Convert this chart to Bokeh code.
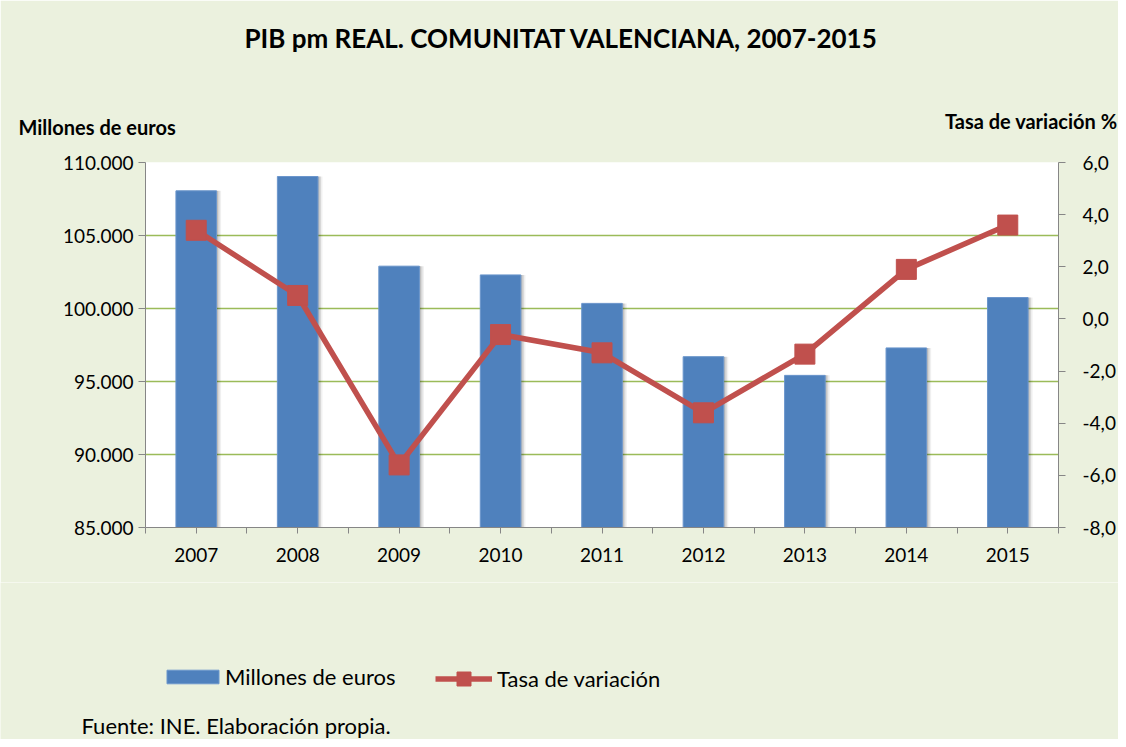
from bokeh.plotting import figure
from bokeh.layouts import column
from bokeh.models import Range1d, LinearAxis, FixedTicker, Label, Legend, LegendItem
from bokeh.transform import dodge
from bokeh.embed import file_html
from bokeh.resources import INLINE

# ---- data ----
years = ["2007", "2008", "2009", "2010", "2011", "2012", "2013", "2014", "2015"]
pib = [108060, 109040, 102900, 102300, 100350, 96700, 95420, 97300, 100750]
tasa = [3.4, 0.9, -5.6, -0.6, -1.3, -3.6, -1.35, 1.9, 3.6]
left_ticks = [85000, 90000, 95000, 100000, 105000, 110000]
left_labels = ["85.000", "90.000", "95.000", "100.000", "105.000", "110.000"]
right_ticks = [-8, -6, -4, -2, 0, 2, 4, 6]
right_labels = ["-8,0", "-6,0", "-4,0", "-2,0", "0,0", "2,0", "4,0", "6,0"]

title_text = "PIB pm REAL. COMUNITAT VALENCIANA, 2007-2015"
left_title = "Millones de euros"
right_title = "Tasa de variación %"
source_text = "Fuente: INE. Elaboración propia."
legend_bar = "Millones de euros"
legend_line = "Tasa de variación"

# ---- layout ----
W, H = 1118, 739
FL, FR, FT, FB = 145, 1058, 162, 527  # plot frame in page pixels
HM = 582                               # height of the main figure
FONT = "Lato"
BG = "#EBF1DE"
GRID = "#9BBB59"
AXIS = "#868686"
BLUE = "#4F81BD"
RED = "#C0504D"
NAN = float("nan")

fig = figure(width=W, height=HM, x_range=Range1d(0, len(years)),
             y_range=Range1d(left_ticks[0], left_ticks[-1]),
             output_backend="svg", toolbar_location=None,
             min_border_left=FL, min_border_right=W - FR,
             min_border_top=FT, min_border_bottom=HM - FB)
fig.background_fill_color = "white"
fig.border_fill_color = BG
fig.outline_line_color = None
fig.extra_y_ranges = {"pct": Range1d(right_ticks[0], right_ticks[-1])}

xs = [i + 0.5 for i in range(len(years))]

# x axis: ticks at category boundaries and centres
xt = [float(i) for i in range(len(years) + 1)] + xs
x_over = {float(i): "" for i in range(len(years) + 1)}
for c, y in zip(xs, years):
    x_over[c] = y


def style_axis(ax, tick_out, standoff):
    ax.major_tick_out = tick_out
    ax.major_tick_in = 0
    ax.minor_tick_line_color = None
    ax.axis_line_color = AXIS
    ax.major_tick_line_color = AXIS
    ax.major_label_text_font = FONT
    ax.major_label_text_font_size = "19px"
    ax.major_label_text_color = "black"
    ax.major_label_standoff = standoff


xa = fig.xaxis[0]
xa.ticker = FixedTicker(ticks=xt)
xa.major_label_overrides = x_over
style_axis(xa, 6, 14)

ya = fig.yaxis[0]
ya.ticker = FixedTicker(ticks=left_ticks)
ya.major_label_overrides = dict(zip(left_ticks, left_labels))
style_axis(ya, 7, 5)

ra = LinearAxis(y_range_name="pct", ticker=FixedTicker(ticks=right_ticks))
ra.major_label_overrides = dict(zip(right_ticks, right_labels))
style_axis(ra, 7, 17)
fig.add_layout(ra, "right")

fig.xgrid.grid_line_color = None
fig.ygrid.ticker = FixedTicker(ticks=left_ticks)
fig.ygrid.grid_line_color = GRID
fig.ygrid.grid_line_width = 1.6

# bars with a soft shadow on the right
src = dict(x=xs, top=pib)
for off, alpha in [(0.045, 0.06), (0.03, 0.10), (0.015, 0.12)]:
    fig.vbar(x=dodge("x", off), top="top", bottom=left_ticks[0], width=0.4, source=src,
             fill_color="black", fill_alpha=alpha, line_color=None)
fig.vbar(x="x", top="top", bottom=left_ticks[0], width=0.4, source=src,
         fill_color=BLUE, line_color="#6B96CC", line_width=1)

fig.line(xs, tasa, y_range_name="pct", line_color=RED, line_width=5.5)
fig.scatter(xs, tasa, y_range_name="pct", marker="square", size=20,
            fill_color=RED, line_color=RED)


def above_label(text, x, y, size, align="left"):
    fig.add_layout(Label(x=x, y=y, x_units="screen", y_units="screen",
                         text=text, text_font=FONT, text_font_size=size,
                         text_font_style="bold", text_align=align,
                         text_baseline="alphabetic", text_color="black"), "above")


# above stack (first added sits next to the frame)
above_label(right_title, 1117 - FL, 42, "20px", align="right")
above_label(left_title, 18 - FL, 12, "20px")
above_label(title_text, 561 - FL, 77, "26px", align="center")

# ---- footer figure: legend and source ----
HF = H - HM
foot = figure(width=W, height=HF, x_range=Range1d(0, W), y_range=Range1d(H, HM),
              x_axis_type=None, y_axis_type=None,
              output_backend="svg", toolbar_location=None,
              min_border_left=0, min_border_right=0, min_border_top=0, min_border_bottom=0)
for f in (fig, foot):
    try:
        f.frame_align = False
    except Exception:
        pass
foot.background_fill_color = BG
foot.border_fill_color = BG
foot.outline_line_color = None
foot.grid.visible = False

# legend proxies (no visible data points)
lg_bar = foot.vbar(x=[NAN], top=[NAN], width=1, fill_color=BLUE, line_color="#6B96CC")
lg_line = foot.line(x=[NAN], y=[NAN], line_color=RED, line_width=5.5)
lg_mk = foot.scatter(x=[NAN], y=[NAN], marker="square", size=20, fill_color=RED, line_color=RED)

common = dict(orientation="horizontal", padding=0, margin=0, background_fill_alpha=0,
              border_line_color=None, label_text_font=FONT, label_text_font_size="22px",
              label_text_color="black", label_height=10, inactive_fill_alpha=0)
leg1 = Legend(items=[LegendItem(label=legend_bar, renderers=[lg_bar])],
              location=(160, 49), glyph_width=65, glyph_height=17, label_standoff=0, **common)
leg2 = Legend(items=[LegendItem(label=legend_line, renderers=[lg_line, lg_mk])],
              location=(435, 43), glyph_width=57, glyph_height=35, label_standoff=5, **common)
foot.add_layout(leg1, "center")
foot.add_layout(leg2, "center")

foot.add_layout(Label(x=81, y=725, text=source_text, text_font=FONT,
                      text_font_size="22px", text_baseline="alphabetic",
                      text_color="black"))

p = column(fig, foot, spacing=0)
open("out.html", "w").write(file_html(p, INLINE))
